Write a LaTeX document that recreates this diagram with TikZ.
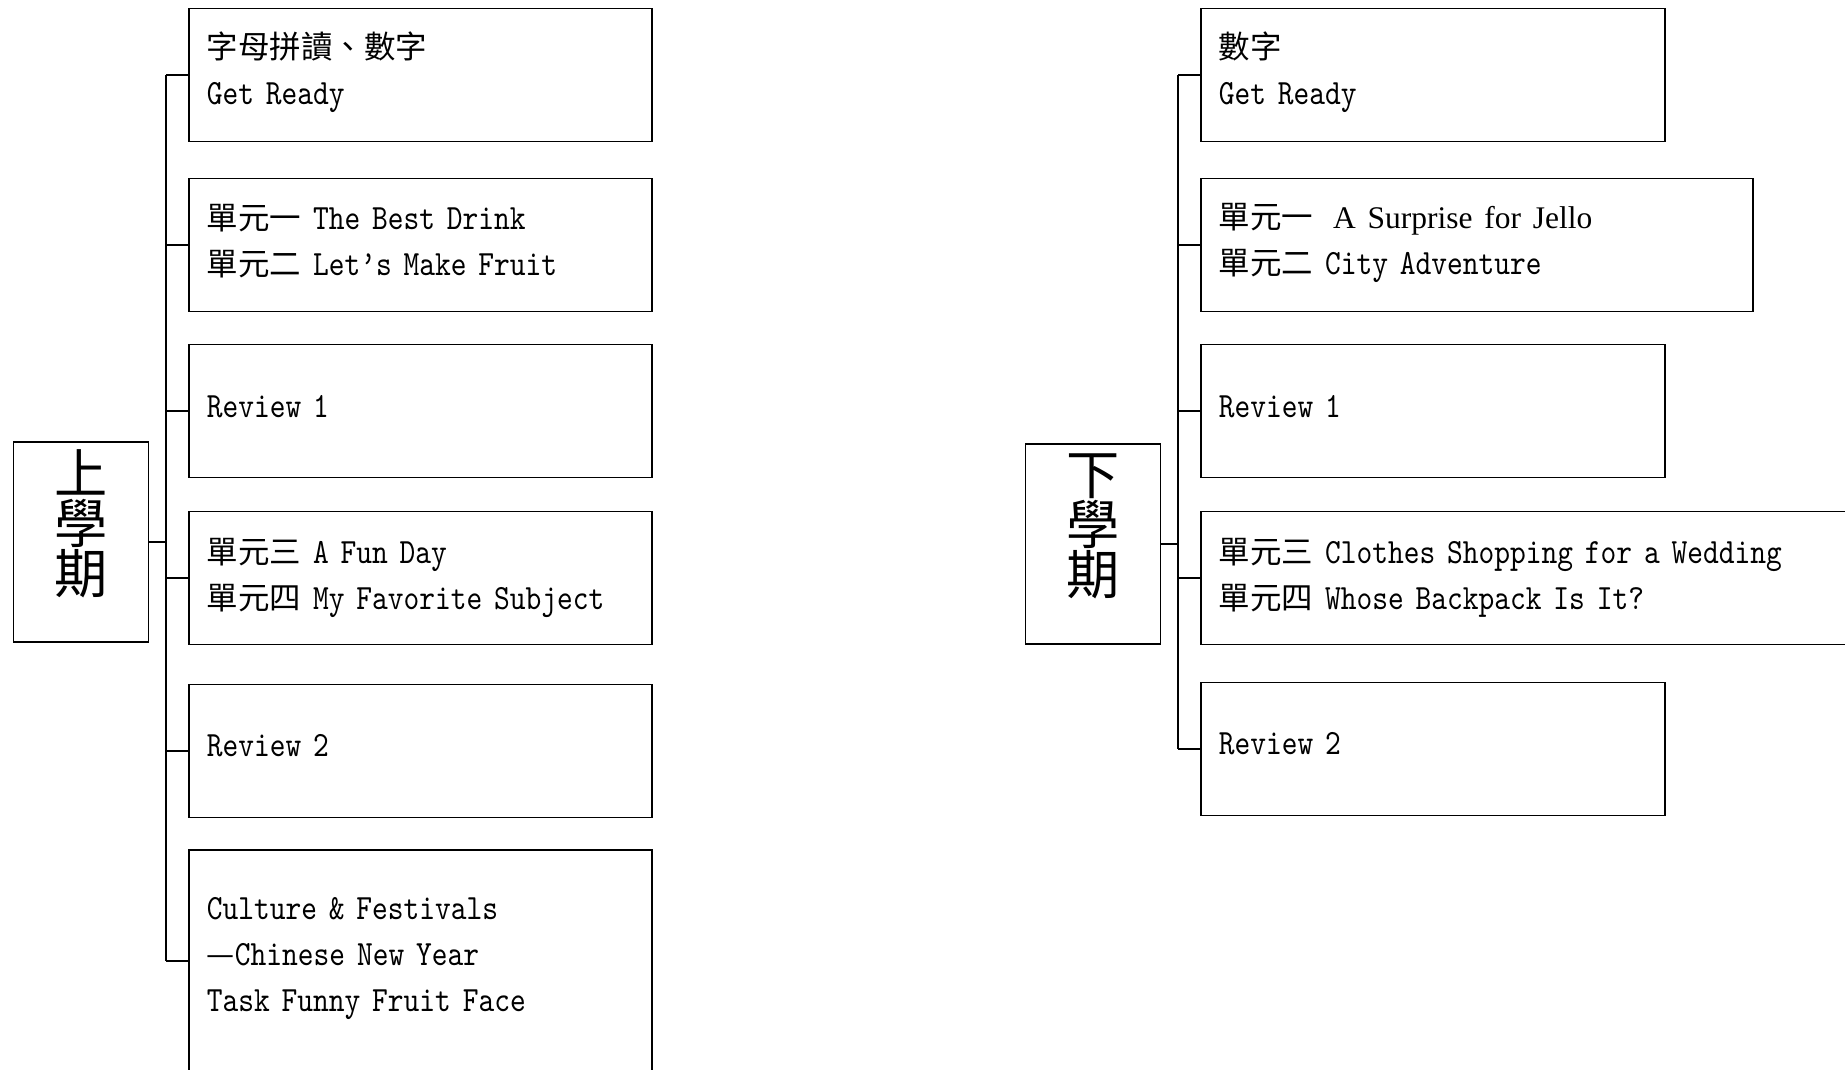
\documentclass[tikz,border=0pt]{standalone}
\usepackage{fontspec}
\setmainfont{lmmono10-regular.otf}[FakeStretch=0.845]
\newfontfamily\cjk{Noto Sans CJK TC}[Scale=0.887]
\newfontfamily\tms{Liberation Serif}[Scale=0.887]
\tikzset{
	lesson/.style={draw,line width=1.6pt,rectangle,minimum height=133pt,inner xsep=18pt,inner ysep=0pt,
		text width=#1,align=left,anchor=west,font=\fontsize{35.5}{46}\selectfont},
	term/.style={draw,line width=1.6pt,rectangle,minimum width=135pt,minimum height=200pt,inner sep=0pt,
		align=center,font=\cjk\fontsize{60}{50}\selectfont},
}
\begin{document}
\begin{tikzpicture}[x=1pt,y=-1pt]
	\clip(0,0)rectangle(1845,1070);
	% first term
	\node(LT)at(81,542)[term]{上\\學\\期\\[-10pt]\mbox{}};
	\node(L1)at(188,75)[lesson=427pt,text depth=59pt]{{\cjk 字母拼讀、數字}\\Get Ready};
	\node(L2)at(188,245)[lesson=427pt,text depth=57pt]{{\cjk 單元一} The Best Drink\\{\cjk 單元二} Let’s Make Fruit};
	\node(L3)at(188,411)[lesson=427pt,text depth=10pt]{Review 1};
	\node(L4)at(188,578)[lesson=427pt,text depth=55pt]{{\cjk 單元三} A Fun Day\\{\cjk 單元四} My Favorite Subject};
	\node(L5)at(188,751)[lesson=427pt,text depth=11pt]{Review 2};
	\node(L6)at(188,961)[lesson=427pt,minimum height=222pt,text depth=106pt]{Culture \& Festivals\\{\cjk —}Chinese New Year\\Task Funny Fruit Face};
	\coordinate(LB)at(166,540);
	% second term
	\node(RT)at(1093,544)[term]{下\\學\\期\\[-10pt]\mbox{}};
	\node(R1)at(1200,75)[lesson=428pt,text depth=59pt]{{\cjk 數字}\\Get Ready};
	\node(R2)at(1200,245)[lesson=516pt,text depth=59pt]{{\cjk 單元一}\hspace{8pt} {\tms A Surprise for Jello}\\{\cjk 單元二} City Adventure};
	\node(R3)at(1200,411)[lesson=428pt,text depth=10pt]{Review 1};
	\node(R4)at(1200,578)[lesson=664pt,text depth=54pt]{{\cjk 單元三} Clothes Shopping for a Wedding\\{\cjk 單元四} Whose Backpack Is It?};
	\node(R5)at(1200,749)[lesson=428pt,text depth=11pt]{Review 2};
	\coordinate(RB)at(1178,540);
	\tikzset{every path/.style={line width=1.6pt}}
	\draw(LT.east)--(LT.east-|LB);
	\draw(L1.west-|LB)--(L6.west-|LB);
	\foreach \n in {1,...,6}\draw(L\n.west-|LB)--(L\n.west);
	\draw(RT.east)--(RT.east-|RB);
	\draw(R1.west-|RB)--(R5.west-|RB);
	\foreach \n in {1,...,5}\draw(R\n.west-|RB)--(R\n.west);
\end{tikzpicture}
\end{document}
